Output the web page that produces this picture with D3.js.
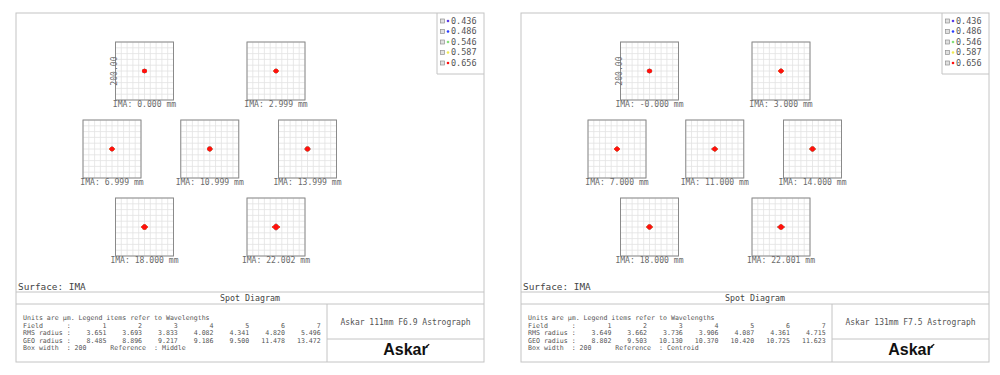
<!DOCTYPE html>
<html><head><meta charset="utf-8">
<script src="https://cdn.jsdelivr.net/npm/d3@7"></script>
<style>body{margin:0;background:#fff} svg{display:block}</style>
</head><body><svg id="c" width="1000" height="375"></svg>
<script>
// ---- data ----
const wavelengths = ["0.436","0.486","0.546","0.587","0.656"];
const waveColors = ["#5a3ce6","#2a3cff","#86e07a","#f0ea50","#ff1010"];
const fieldNums = [1,2,3,4,5,6,7];
const leftFieldLabels = ["0.000","2.999","6.999","10.999","13.999","18.000","22.002"];
const leftRms = [3.651,3.693,3.833,4.082,4.341,4.820,5.496];
const leftGeo = [8.485,8.896,9.217,9.186,9.500,11.478,13.472];
const rightFieldLabels = ["-0.000","3.000","7.000","11.000","14.000","18.000","22.001"];
const rightRms = [3.649,3.662,3.736,3.906,4.087,4.361,4.715];
const rightGeo = [8.802,9.503,10.130,10.370,10.420,10.725,11.623];
const boxWidth = 200;
const leftTitle = "Askar 111mm F6.9 Astrograph";
const rightTitle = "Askar 131mm F7.5 Astrograph";
const leftRef = "Middle";
const rightRef = "Centroid";
const rowsLayout = [[0,1],[2,3,4],[5,6]];

const panels = [
  {x:16, labels:leftFieldLabels, rms:leftRms, geo:leftGeo, title:leftTitle, ref:leftRef},
  {x:521, labels:rightFieldLabels, rms:rightRms, geo:rightGeo, title:rightTitle, ref:rightRef}
];

const svg = d3.select("#c");
const PW = 468, PH = 349, BS = 58;
const mono = "'DejaVu Sans Mono', monospace";

panels.forEach(p => {
  const g = svg.append("g").attr("transform", `translate(${p.x},13)`);
  g.append("rect").attr("x",0).attr("y",0).attr("width",PW).attr("height",PH)
    .attr("fill","#fff").attr("stroke","#c4c4c4").attr("stroke-width",1);

  const rowY = d3.scalePoint().domain([0,1,2]).range([58,214]);
  const rowX2 = d3.scalePoint().domain([0,1]).range([128.5,260]);
  const rowX3 = d3.scalePoint().domain([0,1,2]).range([96,291.5]);
  rowsLayout.forEach((row, ri) => {
    const xs = row.length === 3 ? rowX3 : rowX2;
    row.forEach((fi, ci) => {
      const cx = xs(ci), cy = rowY(ri);
      const sx = d3.scaleLinear().domain([-boxWidth/2, boxWidth/2]).range([cx-BS/2, cx+BS/2]);
      const sy = d3.scaleLinear().domain([-boxWidth/2, boxWidth/2]).range([cy+BS/2, cy-BS/2]);
      const bg = g.append("g");
      const ticks = d3.range(-boxWidth/2, boxWidth/2+1, boxWidth/10);
      bg.selectAll("line.v").data(ticks).join("line")
        .attr("x1", d=>sx(d)).attr("x2", d=>sx(d)).attr("y1", sy(-boxWidth/2)).attr("y2", sy(boxWidth/2))
        .attr("stroke","#e2e2e2").attr("stroke-width",0.8);
      bg.selectAll("line.h").data(ticks).join("line")
        .attr("y1", d=>sy(d)).attr("y2", d=>sy(d)).attr("x1", sx(-boxWidth/2)).attr("x2", sx(boxWidth/2))
        .attr("stroke","#e2e2e2").attr("stroke-width",0.8);
      bg.append("rect").attr("x", sx(-boxWidth/2)).attr("y", sy(boxWidth/2))
        .attr("width", sx(boxWidth/2)-sx(-boxWidth/2)).attr("height", sy(-boxWidth/2)-sy(boxWidth/2))
        .attr("fill","none").attr("stroke","#8a8a8a").attr("stroke-width",1);
      // spot
      const geo = p.geo[fi];
      const rms = p.rms[fi];
      const r = sx(geo) - sx(0);
      const rc = sx(rms*0.68) - sx(0) + 1.6;
      waveColors.forEach((col) => {
        bg.append("circle").attr("cx", sx(0)).attr("cy", sy(0)).attr("r", rc)
          .attr("fill", col);
        bg.append("rect").attr("x", sx(-geo)).attr("y", sy(0)-0.8).attr("width", 2*r).attr("height",1.6).attr("fill",col);
        bg.append("rect").attr("x", sx(0)-0.8).attr("y", sy(geo*0.8)).attr("width", 1.6).attr("height",2*r*0.8).attr("fill",col);
      });
      bg.append("text").attr("x", cx).attr("y", sy(-boxWidth/2)+7)
        .attr("text-anchor","middle").attr("font-family", mono).attr("font-size", 8.1)
        .attr("fill","#6a6a6a").text(`IMA: ${p.labels[fi]} mm`);
      if (fi === 0) {
        bg.append("text").attr("transform", `translate(${sx(-boxWidth/2)+1.5},${cy}) rotate(-90)`)
          .attr("text-anchor","middle").attr("font-family", mono).attr("font-size", 8.1)
          .attr("fill","#6a6a6a").text(boxWidth.toFixed(2));
      }
    });
  });

  // legend
  const lg = g.append("g");
  lg.append("path").attr("d", `M421,0V61H${PW}`).attr("fill","none").attr("stroke","#c4c4c4");
  const ly = d3.scalePoint().domain(wavelengths).range([10.5, 52.5]);
  wavelengths.forEach((w, i) => {
    lg.append("rect").attr("x", 424.5).attr("y", ly(w)-4.5).attr("width",4).attr("height",4)
      .attr("fill","#e0e0e0").attr("stroke","#909090").attr("stroke-width",0.7);
    lg.append("circle").attr("cx", 432).attr("cy", ly(w)-2.5).attr("r",1.3).attr("fill", waveColors[i]);
    lg.append("text").attr("x", 435).attr("y", ly(w)).attr("font-family", mono).attr("font-size", 8.5)
      .attr("fill","#555").text(w);
  });

  // bottom section
  g.append("text").attr("x",2).attr("y",277).attr("font-family",mono).attr("font-size",9.4)
    .attr("fill","#444").text("Surface: IMA");
  g.append("line").attr("x1",0).attr("x2",PW).attr("y1",279).attr("y2",279).attr("stroke","#c4c4c4");
  g.append("text").attr("x",PW/2).attr("y",288).attr("text-anchor","middle").attr("font-family",mono)
    .attr("font-size",8.3).attr("fill","#444").text("Spot Diagram");
  g.append("line").attr("x1",0).attr("x2",PW).attr("y1",291).attr("y2",291).attr("stroke","#c4c4c4");
  g.append("line").attr("x1",311).attr("x2",311).attr("y1",291).attr("y2",PH).attr("stroke","#c4c4c4");
  g.append("line").attr("x1",311).attr("x2",PW).attr("y1",326).attr("y2",326).attr("stroke","#c4c4c4");

  const lines = [
    "Units are \u00b5m. Legend items refer to Wavelengths",
    "Field      :" + fieldNums.map(d => String(d).padStart(9)).join(""),
    "RMS radius :" + p.rms.map(d => d.toFixed(3).padStart(9)).join(""),
    "GEO radius :" + p.geo.map(d => d.toFixed(3).padStart(9)).join(""),
    "Box width  : " + boxWidth + "      Reference  : " + p.ref
  ];
  lines.forEach((t, i) => {
    g.append("text").attr("x",7).attr("y",307 + i*7.5).attr("font-family",mono).attr("font-size",6.6)
      .attr("fill","#555").style("white-space","pre").text(t);
  });

  g.append("text").attr("x",(311+PW)/2).attr("y",312).attr("text-anchor","middle").attr("font-family",mono)
    .attr("font-size",8).attr("fill","#555").text(p.title);
  const logo = g.append("text").attr("x",(311+PW)/2).attr("y",342).attr("text-anchor","middle")
    .attr("font-family","'Liberation Sans', Arial, sans-serif").attr("font-weight",700)
    .attr("font-size",16).attr("fill","#111").text("Askar");
  const bb = logo.node().getBBox();
  g.append("path").attr("d", `M${bb.x+bb.width-1.5},${bb.y+5.5}l3,-2.2`).attr("stroke","#111").attr("stroke-width",1.4);
});
</script></body></html>
